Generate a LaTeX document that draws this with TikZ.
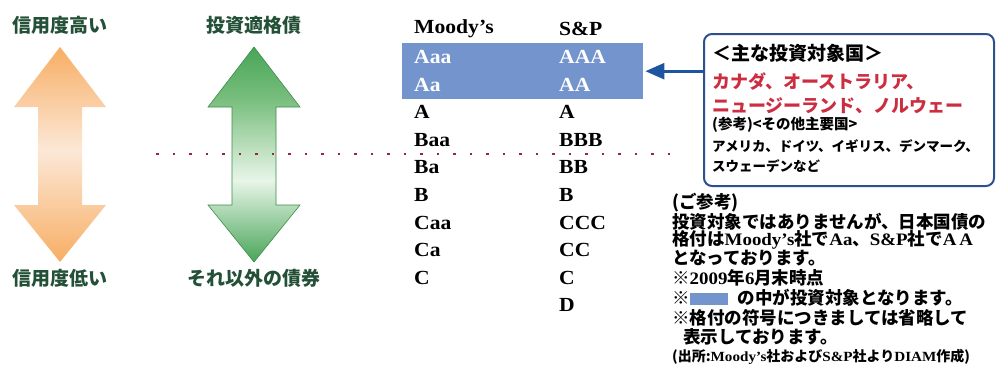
\documentclass[tikz,border=0pt]{standalone}
\usepackage{fontspec}
\setmainfont{Liberation Serif}[FakeStretch=1.08]
\newfontfamily\jp{Noto Sans CJK JP}
\usepackage{xcolor}
\usetikzlibrary{positioning,calc,arrows.meta}
\definecolor{boxblue}{RGB}{115,148,205}
\definecolor{linkblue}{RGB}{30,85,160}
\definecolor{frameblue}{RGB}{45,80,145}
\definecolor{cntred}{RGB}{205,45,65}
\definecolor{lblgreen}{RGB}{35,80,55}
\definecolor{orgdeep}{RGB}{247,174,100}
\definecolor{orgpale}{RGB}{252,232,215}
\definecolor{grndeep}{RGB}{72,165,88}
\definecolor{grnmid}{RGB}{120,190,125}
\definecolor{grnpale}{RGB}{232,245,232}
\definecolor{dotred}{RGB}{150,40,55}
\pgfdeclareverticalshading{orgshade}{100bp}{color(0bp)=(orgdeep); color(25bp)=(orgdeep); color(51bp)=(orgpale); color(75bp)=(orgdeep); color(100bp)=(orgdeep)}
\pgfdeclareverticalshading{grnshade}{100bp}{color(0bp)=(grndeep); color(25bp)=(grndeep); color(44bp)=(grnpale); color(63bp)=(grnmid); color(75bp)=(grndeep); color(100bp)=(grndeep)}
\tikzset{
  lbl/.style={font=\jp\bfseries\fontsize{19}{22}\selectfont,text=lblgreen,inner sep=0pt},
  rate/.style={font=\bfseries\fontsize{20}{24}\selectfont,anchor=west,inner sep=0pt},
  ratew/.style={rate,text=white},
  jtxt/.style={font=\jp\bfseries\fontsize{#1}{#1}\selectfont,anchor=west,inner sep=0pt},
  calloutbox/.style={draw=frameblue,line width=2pt,rounded corners=8pt,fill=white,
    minimum width=290pt,minimum height=152pt,anchor=north west,inner sep=0pt},
  linkarrow/.style={draw=linkblue,line width=2.6pt,-{Triangle[length=19pt,width=16pt]}},
  dotline/.style={dotred,line width=1.8pt,dash pattern=on 2.5pt off 14pt}
}
\begin{document}
\begin{tikzpicture}[x=1pt,y=-1pt]
      \useasboundingbox (0,0) rectangle (998,388);
      \shade[shading=orgshade] (60,47) -- (106,107) -- (82,107) -- (82,205) -- (106,205) -- (60,262) -- (14,205) -- (38,205) -- (38,107) -- (14,107) -- cycle;
      \shade[shading=grnshade,draw=grndeep!85!black,line width=0.6pt] (254,47) -- (300,107) -- (276,107) -- (276,205) -- (300,205) -- (254,262) -- (208,205) -- (232,205) -- (232,107) -- (208,107) -- cycle;
      \node[lbl] (hi) at (60,25) {信用度高い};
      \node[lbl] (lo) at (60,278) {信用度低い};
      \node[lbl] (inv) at (254,25) {投資適格債};
      \node[lbl] (oth) at (254,278) {それ以外の債券};
      \node[fill=boxblue,minimum width=241pt,minimum height=56pt,anchor=north west,inner sep=0pt] (invbox) at (402,43) {};
      \node[rate] (mhd) at (414,29) {Moody's};
      \node[rate] (shd) at (559,29) {S\&P};
      \node[ratew] (m1) at (414,57) {Aaa};
      \node[ratew] (m2) at (414,84.6) {Aa};
      \node[rate] (m3) at (414,112.2) {A};
      \node[rate] (m4) at (414,139.8) {Baa};
      \node[rate] (m5) at (414,167.4) {Ba};
      \node[rate] (m6) at (414,195) {B};
      \node[rate] (m7) at (414,222.6) {Caa};
      \node[rate] (m8) at (414,250.2) {Ca};
      \node[rate] (m9) at (414,277.8) {C};
      \node[ratew] (s1) at (559,57) {AAA};
      \node[ratew] (s2) at (559,84.6) {AA};
      \node[rate] (s3) at (559,112.2) {A};
      \node[rate] (s4) at (559,139.8) {BBB};
      \node[rate] (s5) at (559,167.4) {BB};
      \node[rate] (s6) at (559,195) {B};
      \node[rate] (s7) at (559,222.6) {CCC};
      \node[rate] (s8) at (559,250.2) {CC};
      \node[rate] (s9) at (559,277.8) {C};
      \node[rate] (s10) at (559,305.4) {D};
      \coordinate (dotl) at (156,154);
      \coordinate (dotr) at (672,154);
      \draw[dotline] (dotl) -- (dotr);
      \node[calloutbox] (callout) at (703,33) {};
      \draw[linkarrow] (callout.west |- invbox.east) -- ([xshift=2pt]invbox.east);
      \node[jtxt=19] (chd) at (712,53) {＜主な投資対象国＞};
      \node[jtxt=18,text=cntred] (c1) at (712,82) {カナダ、オーストラリア、};
      \node[jtxt=18,text=cntred] (c2) at (712,106) {ニュージーランド、ノルウェー};
      \node[jtxt=14.5] (c3) at (712,125) {(参考)<その他主要国>};
      \node[jtxt=13.5] (c4) at (712,146) {アメリカ、ドイツ、イギリス、デンマーク、};
      \node[jtxt=13.5] (c5) at (712,166) {スウェーデンなど};
      \node[jtxt=17.5] (n1) at (672,203) {(ご参考)};
      \node[jtxt=17.5] (n2) at (672,222) {投資対象ではありませんが、日本国債の};
      \node[jtxt=17.5] (n3) at (672,240) {格付は{\rmfamily Moody's}社で{\rmfamily Aa}、{\rmfamily S\&P}社で{\rmfamily A\,A}};
      \node[jtxt=17.5] (n4) at (672,258) {となっております。};
      \node[jtxt=17.5] (n5) at (672,278) {※{\rmfamily 2009}年{\rmfamily 6}月末時点};
      \node[jtxt=17.5] (n6) at (672,298) {※{\color{boxblue}\rule[-0.5pt]{38pt}{12pt}}\hspace{10pt}の中が投資対象となります。};
      \node[jtxt=17.5] (n7) at (672,318) {※格付の符号につきましては省略して};
      \node[jtxt=17.5] (n8) at (672,337) {\hspace*{11pt}表示しております。};
      \node[jtxt=14] (n9) at (672,357) {(出所:{\rmfamily Moody's}社および{\rmfamily S\&P}社より{\rmfamily DIAM}作成)};
\end{tikzpicture}
\end{document}
